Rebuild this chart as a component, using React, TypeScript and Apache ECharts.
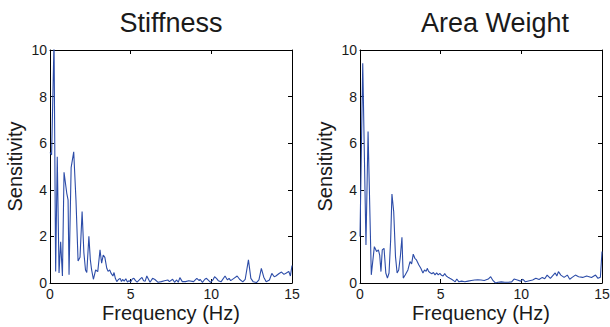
import React, { useEffect, useRef } from "react";
import * as echarts from "echarts";

const titles = ["Stiffness", "Area Weight"];
const xTicks = { min: 0, max: 15, interval: 5 };
const yTicks = { min: 0, max: 10, interval: 2 };

const stiffness: [number, number][] = [
  [0, 5.6], [0.1, 5.5], [0.25, 10.4], [0.35, 0.49], [0.45, 5.42], [0.56, 0.43],
  [0.66, 1.77], [0.77, 0.3], [0.87, 4.75], [1.04, 3.85], [1.12, 3.57], [1.18, 0.35],
  [1.31, 4.95], [1.47, 5.63], [1.61, 3.56], [1.74, 0.94], [1.86, 1.1], [1.99, 3.07],
  [2.1, 1.3], [2.2, 0.56], [2.28, 0.45], [2.41, 2.0], [2.5, 1.0], [2.58, 0.56],
  [2.69, 0.16], [2.83, 0.56], [2.96, 0.49], [3.1, 1.42], [3.2, 0.85], [3.3, 1.2],
  [3.4, 1.1], [3.52, 0.63], [3.6, 0.5], [3.7, 0.56], [3.8, 0.4], [3.9, 0.3],
  [3.97, 0.45], [4.05, 0.2], [4.14, 0.06], [4.24, 0.15], [4.35, 0.2], [4.43, 0.06],
  [4.5, 0.15], [4.6, 0.08], [4.7, 0.18], [4.8, 0.04], [4.9, 0.1], [5.0, 0.04],
  [5.1, 0.17], [5.2, 0.2], [5.3, 0.1], [5.4, 0.04], [5.52, 0.12], [5.63, 0.2],
  [5.7, 0.24], [5.8, 0.1], [5.9, 0.08], [6.0, 0.3], [6.2, 0.03], [6.36, 0.2],
  [6.5, 0.15], [6.7, 0.03], [6.9, 0.06], [7.1, 0.1], [7.3, 0.13], [7.4, 0.06],
  [7.6, 0.16], [7.72, 0.03], [7.85, 0.13], [7.95, 0.03], [8.05, 0.23], [8.2, 0.06],
  [8.4, 0.06], [8.6, 0.1], [8.9, 0.06], [9.1, 0.2], [9.25, 0.1], [9.3, 0.16],
  [9.45, 0.03], [9.6, 0.16], [9.7, 0.2], [9.95, 0.03], [10.1, 0.13], [10.2, 0.27],
  [10.32, 0.2], [10.43, 0.1], [10.6, 0.05], [10.85, 0.3], [11.0, 0.13], [11.1, 0.2],
  [11.2, 0.1], [11.4, 0.2], [11.6, 0.3], [11.75, 0.16], [11.95, 0.05], [12.1, 0.16],
  [12.3, 0.99], [12.45, 0.2], [12.6, 0.05], [12.8, 0.02], [12.95, 0.13], [13.1, 0.63],
  [13.25, 0.25], [13.4, 0.05], [13.6, 0.13], [13.75, 0.41], [13.9, 0.27], [14.0, 0.3],
  [14.2, 0.41], [14.35, 0.47], [14.5, 0.37], [14.65, 0.43], [14.8, 0.5], [14.9, 0.3],
  [15.0, 0.75],
];

const areaWeight: [number, number][] = [
  [0, 2.0], [0.17, 9.43], [0.37, 1.63], [0.5, 6.5], [0.7, 0.35], [0.89, 1.56],
  [1.03, 1.35], [1.14, 1.42], [1.22, 1.2], [1.3, 0.49], [1.38, 1.42], [1.49, 1.49],
  [1.6, 0.43], [1.7, 0.21], [1.8, 0.43], [1.9, 1.85], [1.98, 3.82], [2.09, 3.06],
  [2.2, 1.13], [2.3, 0.43], [2.4, 0.56], [2.5, 1.13], [2.6, 1.96], [2.68, 0.21],
  [2.8, 0.34], [2.97, 0.56], [3.1, 0.92], [3.2, 0.82], [3.3, 1.24], [3.4, 1.06],
  [3.5, 0.99], [3.65, 0.77], [3.77, 0.63], [3.9, 0.43], [4.0, 0.56], [4.1, 0.5],
  [4.17, 0.63], [4.25, 0.5], [4.33, 0.45], [4.45, 0.4], [4.55, 0.45], [4.65, 0.35],
  [4.75, 0.43], [4.85, 0.35], [4.95, 0.41], [5.05, 0.33], [5.15, 0.3], [5.25, 0.4],
  [5.35, 0.3], [5.45, 0.25], [5.57, 0.2], [5.7, 0.15], [5.8, 0.1], [5.9, 0.05],
  [6.0, 0.17], [6.13, 0.05], [6.3, 0.08], [6.5, 0.05], [6.7, 0.08], [6.9, 0.11],
  [7.1, 0.13], [7.3, 0.14], [7.5, 0.13], [7.7, 0.11], [7.95, 0.17], [8.1, 0.27],
  [8.25, 0.1], [8.4, 0.0], [8.55, 0.03], [8.76, 0.05], [8.97, 0.03], [9.2, 0.03],
  [9.4, 0.05], [9.55, 0.17], [9.75, 0.13], [9.95, 0.08], [10.1, 0.16], [10.25, 0.05],
  [10.5, 0.1], [10.7, 0.13], [10.9, 0.2], [11.1, 0.15], [11.3, 0.24], [11.45, 0.18],
  [11.6, 0.34], [11.8, 0.2], [12.1, 0.43], [12.2, 0.3], [12.3, 0.49], [12.45, 0.34],
  [12.65, 0.24], [12.85, 0.34], [13.0, 0.16], [13.15, 0.24], [13.35, 0.34], [13.55, 0.27],
  [13.8, 0.24], [14.05, 0.3], [14.35, 0.24], [14.6, 0.34], [14.75, 0.2], [14.9, 0.25],
  [15.0, 1.35],
];

const seriesData = [stiffness, areaWeight];

const FONT = "'Liberation Sans', Arial, Helvetica, sans-serif";
const TEXT = "#1a1a1a";
const LINE = "#2c4ca8";

export default function App() {
  const ref = useRef<HTMLDivElement>(null);

  useEffect(() => {
    if (!ref.current) return;
    const chart = echarts.init(ref.current, undefined, { renderer: "svg" });

    const grids = [
      { left: 50, top: 50, width: 242, height: 233 },
      { left: 360, top: 50, width: 242, height: 233 },
    ];
    const titleX = [171, 495];

    const axisLine = { show: true, onZero: false, lineStyle: { color: "#000", width: 1 } };
    const axisTick = { show: true, inside: true, length: 4, lineStyle: { color: "#000", width: 1 } };
    const label = { color: TEXT, fontSize: 14, fontFamily: FONT };
    const nameStyle = { color: TEXT, fontSize: 20, fontFamily: FONT };

    const xAxis: any[] = [];
    const yAxis: any[] = [];
    grids.forEach((_, g) => {
      xAxis.push({
        type: "value", gridIndex: g, position: "bottom", ...xTicks,
        axisLine, axisTick, splitLine: { show: false },
        axisLabel: { ...label, margin: 4, showMinLabel: true, showMaxLabel: true },
        name: "Frequency (Hz)", nameLocation: "middle", nameGap: 20, nameMoveOverlap: false,
        nameTextStyle: nameStyle,
      });
      xAxis.push({
        type: "value", gridIndex: g, position: "top", ...xTicks,
        axisLine, axisTick, splitLine: { show: false }, axisLabel: { show: false },
      });
      yAxis.push({
        type: "value", gridIndex: g, position: "left", ...yTicks,
        axisLine, axisTick, splitLine: { show: false },
        axisLabel: { ...label, margin: 3, showMinLabel: true, showMaxLabel: true },
        name: "Sensitivity", nameLocation: "middle", nameGap: 25, nameMoveOverlap: false,
        nameTextStyle: nameStyle,
      });
      yAxis.push({
        type: "value", gridIndex: g, position: "right", ...yTicks,
        axisLine, axisTick, splitLine: { show: false }, axisLabel: { show: false },
      });
    });

    chart.setOption({
      animation: false,
      backgroundColor: "#fff",
      grid: grids.map((g) => ({ ...g, containLabel: false, outerBoundsMode: "none" })),
      xAxis,
      yAxis,
      graphic: titles.map((t, i) => ({
        type: "text",
        x: titleX[i],
        y: 23,
        style: {
          text: t, fill: TEXT, fontSize: 27, fontFamily: FONT,
          align: "center", verticalAlign: "middle",
        },
      })),
      series: seriesData.map((d, i) => ({
        type: "line",
        xAxisIndex: i * 2,
        yAxisIndex: i * 2,
        data: d,
        showSymbol: false,
        clip: true,
        lineStyle: { color: LINE, width: 1.1 },
        itemStyle: { color: LINE },
      })),
    });

    return () => chart.dispose();
  }, []);

  return (
    <div
      ref={ref}
      style={{ position: "fixed", left: 0, top: 0, width: 610, height: 327, background: "#fff" }}
    />
  );
}
